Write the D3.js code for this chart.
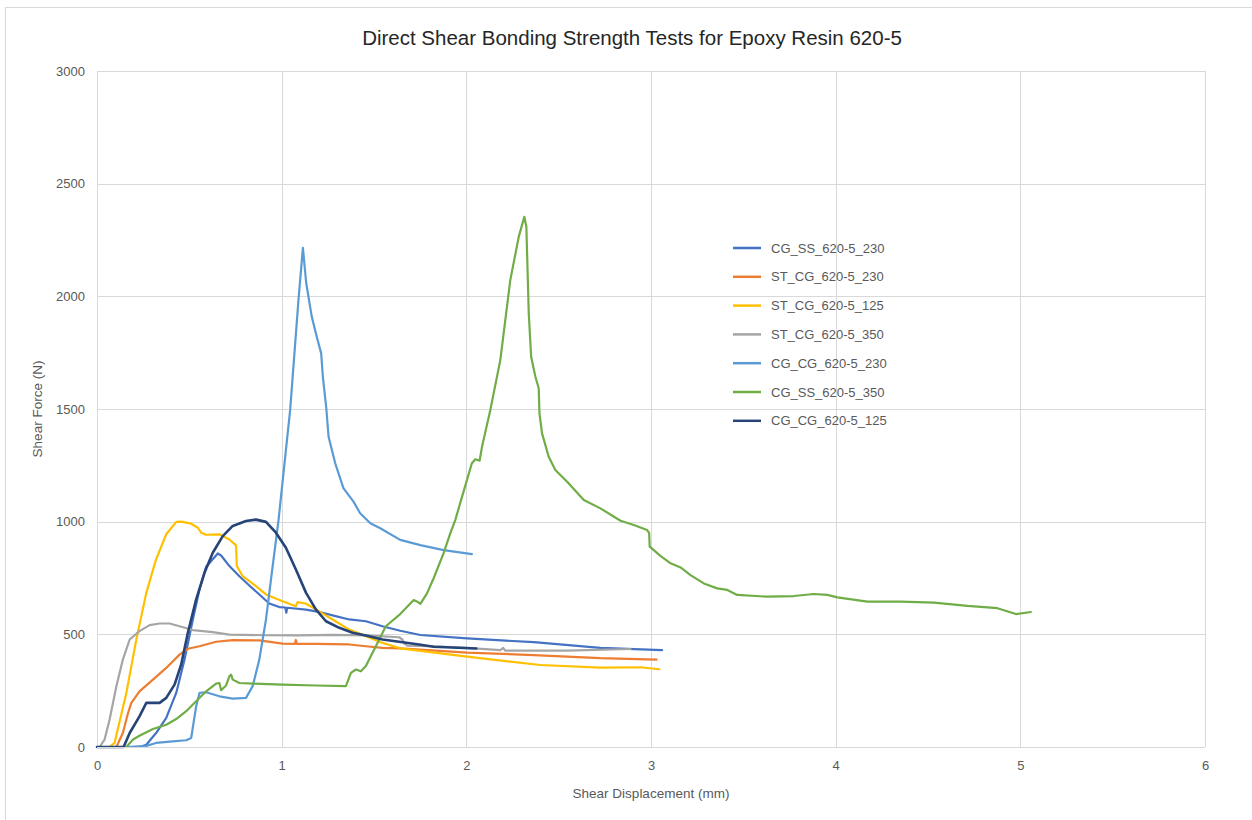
<!DOCTYPE html>
<html>
<head>
<meta charset="utf-8">
<script src="https://cdn.jsdelivr.net/npm/d3@7"></script>
<style>
  html, body { margin: 0; padding: 0; background: #ffffff; }
  svg { display: block; font-family: "Liberation Sans", "DejaVu Sans", sans-serif; }
</style>
</head>
<body>
<svg id="chart" width="1252" height="820"></svg>
<script>
// Axis ticks
const xTicks = [0, 1, 2, 3, 4, 5, 6];
const yTicks = [0, 500, 1000, 1500, 2000, 2500, 3000];

// Series names and colours (legend order)
const seriesNames = [
  "CG_SS_620-5_230", "ST_CG_620-5_230", "ST_CG_620-5_125", "ST_CG_620-5_350",
  "CG_CG_620-5_230", "CG_SS_620-5_350", "CG_CG_620-5_125"
];
const seriesColors = ["#4472C4", "#ED7D31", "#FFC000", "#A5A5A5", "#5B9BD5", "#70AD47", "#264478"];

// Shear displacement (mm) / shear force (N) pairs for each test
const cgSs230 = [
  [0,0],[0.23,0],[0.267,10],[0.32,62],[0.375,129],[0.429,240],[0.474,388],[0.519,566],[0.555,699],
  [0.591,800],[0.627,833],[0.654,859],[0.672,850],[0.717,803],[0.771,758],[0.825,717],[0.879,677],
  [0.933,637],[0.987,621],[1.02,619],[1.025,596],[1.03,618],[1.132,610],[1.2,600],[1.276,584],
  [1.366,566],[1.456,558],[1.546,536],[1.642,516],[1.751,497],[2.004,482],[2.365,465],[2.726,440],[3.06,430]
];
const stCg230 = [
  [0,0],[0.105,0],[0.14,62],[0.168,151],[0.186,196],[0.23,247],[0.303,299],[0.375,351],[0.447,410],
  [0.492,436],[0.555,447],[0.645,467],[0.735,474],[0.879,473],[1.005,459],[1.072,458],[1.077,475],
  [1.082,458],[1.186,458],[1.366,455],[1.456,447],[1.546,440],[1.642,438],[2.004,419],[2.365,408],
  [2.726,394],[3.03,388]
];
const stCg125 = [
  [0,0],[0.068,0],[0.095,18],[0.159,240],[0.213,477],[0.267,684],[0.32,833],[0.375,944],[0.429,999],
  [0.456,1000],[0.51,991],[0.546,973],[0.564,951],[0.59,942],[0.663,944],[0.717,921],[0.753,895],
  [0.757,803],[0.789,758],[0.861,714],[0.915,677],[1.005,647],[1.077,625],[1.086,643],[1.13,637],
  [1.2,603],[1.276,566],[1.366,521],[1.456,492],[1.546,462],[1.642,438],[2.004,401],[2.401,364],
  [2.726,352],[2.943,354],[3.045,345]
];
const stCg350 = [
  [0,0],[0.014,0],[0.041,33],[0.068,121],[0.105,270],[0.14,388],[0.177,477],[0.23,514],[0.285,541],
  [0.339,548],[0.393,548],[0.447,536],[0.519,519],[0.627,510],[0.717,499],[0.915,496],[1.095,495],
  [1.276,498],[1.456,495],[1.636,487],[1.654,477],[1.663,460],[1.68,450],[1.85,446],[2.0,440],
  [2.184,430],[2.2,440],[2.21,428],[2.546,428],[2.889,435]
];
const cgCg230 = [
  [0,0],[0.159,0],[0.267,5],[0.32,18],[0.41,25],[0.483,30],[0.51,40],[0.537,181],[0.555,240],
  [0.591,243],[0.663,225],[0.735,215],[0.807,218],[0.843,270],[0.879,388],[0.915,566],[0.951,800],
  [0.983,1007],[1.046,1496],[1.091,1984],[1.115,2215],[1.133,2058],[1.163,1910],[1.19,1821],
  [1.214,1747],[1.223,1643],[1.241,1510],[1.254,1377],[1.29,1259],[1.335,1148],[1.389,1089],
  [1.425,1037],[1.48,993],[1.534,971],[1.642,919],[1.751,896],[1.877,874],[2.03,856]
];
const cgSs350 = [
  [0.159,0],[0.195,33],[0.23,50],[0.303,80],[0.375,99],[0.429,124],[0.483,159],[0.537,203],[0.591,247],
  [0.645,281],[0.663,284],[0.672,252],[0.699,273],[0.717,314],[0.726,321],[0.735,299],[0.771,284],
  [0.843,281],[1.005,277],[1.186,273],[1.348,270],[1.375,329],[1.402,344],[1.429,336],[1.456,359],
  [1.51,447],[1.564,536],[1.642,590],[1.715,652],[1.735,645],[1.751,635],[1.787,682],[1.823,749],
  [1.877,860],[1.913,948],[1.94,1007],[1.977,1111],[2.03,1259],[2.049,1277],[2.072,1271],[2.085,1333],
  [2.13,1496],[2.184,1717],[2.238,2072],[2.284,2265],[2.314,2353],[2.325,2309],[2.338,1925],
  [2.351,1732],[2.374,1643],[2.392,1592],[2.396,1481],[2.41,1392],[2.446,1288],[2.482,1229],
  [2.546,1177],[2.636,1096],[2.726,1059],[2.835,1004],[2.907,985],[2.979,963],[2.99,950],[2.993,889],
  [3.051,848],[3.106,815],[3.16,797],[3.214,763],[3.286,726],[3.359,704],[3.413,697],[3.467,675],
  [3.63,667],[3.774,670],[3.882,679],[3.955,675],[4.009,664],[4.172,645],[4.352,645],[4.533,641],
  [4.714,626],[4.876,616],[4.976,590],[5.057,599]
];
const cgCg125 = [
  [0,0],[0.144,0],[0.177,62],[0.23,136],[0.267,196],[0.339,196],[0.375,218],[0.42,277],[0.456,366],
  [0.492,507],[0.537,655],[0.582,773],[0.627,862],[0.681,936],[0.735,981],[0.807,1003],[0.861,1009],
  [0.915,999],[0.969,951],[1.023,884],[1.077,788],[1.132,684],[1.186,610],[1.24,558],[1.312,529],
  [1.384,507],[1.456,495],[1.546,477],[1.636,467],[1.744,455],[1.823,445],[2.054,437]
];
const seriesData = [cgSs230, stCg230, stCg125, stCg350, cgCg230, cgSs350, cgCg125];

const svg = d3.select("#chart");

// Chart frame
svg.append("rect")
  .attr("x", 5.5).attr("y", 7.5)
  .attr("width", 1260).attr("height", 830)
  .attr("fill", "#ffffff").attr("stroke", "#d9d9d9").attr("stroke-width", 1);

const plot = { left: 97, right: 1205, top: 71, bottom: 747 };
const x = d3.scaleLinear().domain([0, 6]).range([plot.left, plot.right]);
const y = d3.scaleLinear().domain([0, 3000]).range([plot.bottom, plot.top]);

// Gridlines
const grid = svg.append("g");
grid.selectAll("line.v").data(xTicks).join("line")
  .attr("x1", d => Math.round(x(d)) + 0.5).attr("x2", d => Math.round(x(d)) + 0.5)
  .attr("y1", plot.top).attr("y2", plot.bottom)
  .attr("stroke", "#d9d9d9").attr("stroke-width", 1);
grid.selectAll("line.h").data(yTicks).join("line")
  .attr("x1", plot.left).attr("x2", plot.right)
  .attr("y1", d => Math.round(y(d)) + 0.5).attr("y2", d => Math.round(y(d)) + 0.5)
  .attr("stroke", "#d9d9d9").attr("stroke-width", 1);

// Axes (labels only; lines come from the grid)
const xAxis = svg.append("g")
  .attr("transform", `translate(0,${plot.bottom})`)
  .call(d3.axisBottom(x).tickValues(xTicks).tickSize(0).tickPadding(14).tickFormat(d3.format("d")));
const yAxis = svg.append("g")
  .attr("transform", `translate(${plot.left},0)`)
  .call(d3.axisLeft(y).tickValues(yTicks).tickSize(0).tickPadding(12).tickFormat(d3.format("d")));
[xAxis, yAxis].forEach(a => {
  a.select(".domain").remove();
  a.selectAll("text").attr("fill", "#595959").attr("font-size", 13)
    .attr("font-family", "Liberation Sans, sans-serif");
});

// Series lines
const line = d3.line().x(d => x(d[0])).y(d => y(d[1])).curve(d3.curveLinear);
svg.append("g").selectAll("path").data(seriesData).join("path")
  .attr("d", line)
  .attr("fill", "none")
  .attr("stroke", (d, i) => seriesColors[i])
  .attr("stroke-width", (d, i) => i === 6 ? 2.6 : 2.2)
  .attr("stroke-linejoin", "round")
  .attr("stroke-linecap", "round");

// Bottom axis line drawn over the series
svg.append("line")
  .attr("x1", plot.left).attr("x2", plot.right)
  .attr("y1", plot.bottom + 0.5).attr("y2", plot.bottom + 0.5)
  .attr("stroke", "#d9d9d9").attr("stroke-width", 1);

// Title
svg.append("text")
  .attr("x", 632).attr("y", 45)
  .attr("text-anchor", "middle")
  .attr("fill", "#262626")
  .attr("font-size", 20.5)
  .text("Direct Shear Bonding Strength Tests for Epoxy Resin 620-5");

// Axis titles
svg.append("text")
  .attr("x", 651).attr("y", 798)
  .attr("text-anchor", "middle").attr("fill", "#595959").attr("font-size", 13.5)
  .text("Shear Displacement (mm)");
svg.append("text")
  .attr("transform", "translate(42,409) rotate(-90)")
  .attr("text-anchor", "middle").attr("fill", "#595959").attr("font-size", 13.5)
  .text("Shear Force (N)");

// Legend
const legend = svg.append("g").attr("transform", "translate(733,248)");
const rows = legend.selectAll("g").data(seriesNames).join("g")
  .attr("transform", (d, i) => `translate(0,${i * 28.8})`);
rows.append("line")
  .attr("x1", 0).attr("x2", 28).attr("y1", 0).attr("y2", 0)
  .attr("stroke", (d, i) => seriesColors[i]).attr("stroke-width", 2.5);
rows.append("text")
  .attr("x", 38).attr("y", 4.5)
  .attr("fill", "#595959").attr("font-size", 13)
  .text(d => d);
</script>
</body>
</html>
